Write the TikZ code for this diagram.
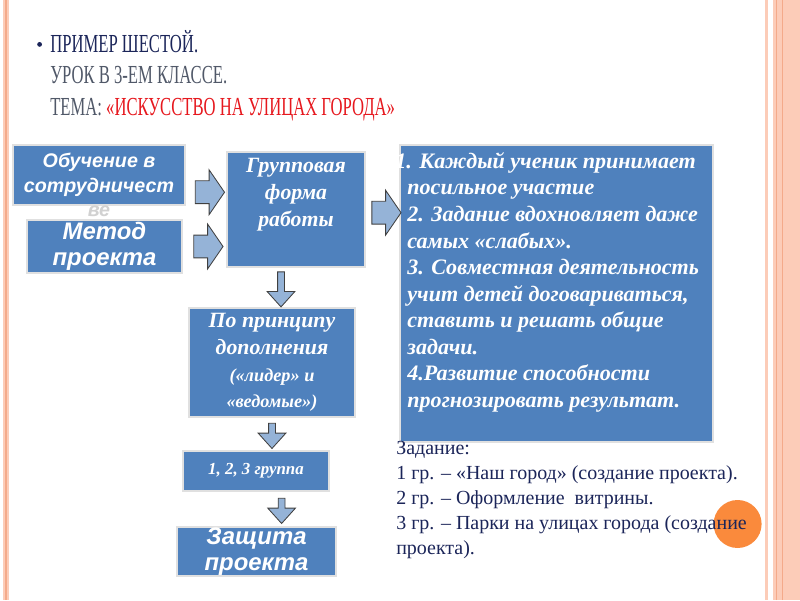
\documentclass[tikz,border=0pt]{standalone}
\usepackage{fontspec}
\setmainfont{Liberation Serif}
\newfontfamily\titlefont[FakeStretch=0.64]{Liberation Serif}
\newfontfamily\boxsans{Liberation Sans}
\usetikzlibrary{shapes.arrows,shadows,calc}

\definecolor{boxblue}{RGB}{79,129,189}
\definecolor{arrowblue}{RGB}{149,179,215}
\definecolor{arrowline}{RGB}{64,64,64}
\definecolor{peach}{RGB}{252,204,184}
\definecolor{peachdark}{RGB}{244,170,138}
\definecolor{navy}{RGB}{27,37,89}
\definecolor{titlegray}{RGB}{80,88,104}
\definecolor{titlered}{RGB}{230,24,30}
\definecolor{dotorange}{RGB}{250,138,60}

\begin{document}
\begin{tikzpicture}[
  box/.style={
    rectangle,
    fill=boxblue,
    draw=black!12,
    line width=1.2pt,
    drop shadow={shadow xshift=1pt,shadow yshift=-1pt,opacity=0.25},
    inner sep=0pt,
    text=white,
    align=center
  },
  sansbox/.style={
    box,
    font=\boxsans\bfseries\itshape\fontsize{17}{18.5}\selectfont
  },
  serifbox/.style={
    box,
    font=\bfseries\itshape\fontsize{15.5}{19}\selectfont
  },
  seriftext/.style={
    inner sep=0pt,
    text=white,
    font=\bfseries\itshape\fontsize{15.5}{19}\selectfont
  },
  rightarrow/.style={
    single arrow,
    draw=arrowline,
    fill=arrowblue,
    line width=0.6pt,
    inner xsep=0pt,
    inner ysep=0.275cm,
    minimum height=0.73cm,
    single arrow head extend=0.275cm,
    single arrow tip angle=111
  },
  downarrow/.style={
    single arrow,
    rotate=-90,
    draw=arrowline,
    fill=arrowblue,
    line width=0.6pt,
    inner xsep=0pt,
    inner ysep=0.075cm,
    minimum height=0.63cm,
    single arrow head extend=0.26cm,
    single arrow tip angle=84
  },
  stripe/.style={
    fill=peach,
    draw=none
  }
]

\path[use as bounding box] (0,0) rectangle (20,15);

% side stripes
\fill[stripe] (0.075,0) rectangle (0.225,15);
\draw[peachdark, line width=0.8pt] (0.15,0) -- (0.15,15);
\fill[stripe] (19.125,0) rectangle (19.2,15);
\fill[stripe] (19.325,0) rectangle (20,15);
\draw[peachdark, line width=1pt] (19.41,0) -- (19.41,15);
\draw[peachdark, line width=0.8pt] (19.57,0) -- (19.57,15);

% title
\fill[navy] (0.99,13.89) circle (0.06);
\node[anchor=north west, inner sep=0pt, align=left,
  font=\titlefont\fontsize{18.5}{22.3}\selectfont] (titel) at (1.25,14.25)
  {\textcolor{navy}{ПРИМЕР ШЕСТОЙ.}\\
   \textcolor{titlegray}{УРОК В 3-ЕМ КЛАССЕ.}\\
   \textcolor{titlegray}{ТЕМА: }\textcolor{titlered}{«ИСКУССТВО НА УЛИЦАХ ГОРОДА»}};

% boxes
\node[sansbox, font=\boxsans\bfseries\itshape\fontsize{14}{17.7}\selectfont,
  minimum width=4.3cm, minimum height=1.5cm] (obuch) at (2.475,10.625)
  {Обучение в\\сотрудничест};
\node[inner sep=0pt, text=black!18,
  font=\boxsans\bfseries\itshape\fontsize{14}{17.7}\selectfont] (obuchve)
  at ([yshift=-0.13cm]obuch.south) {ве};
\node[sansbox, minimum width=3.875cm, minimum height=1.325cm] (metod)
  at (2.6125,8.8375) {Метод\\проекта};
\node[box, minimum width=3.45cm, minimum height=2.875cm] (grupp) at (7.4,9.7625) {};
\node[seriftext, align=center, anchor=north] (grupptext)
  at ([yshift=-0.18cm]grupp.north) {Групповая\\форма\\работы};
\node[box, minimum width=7.825cm, minimum height=7.425cm] (spisok) at (13.9125,7.6625) {};
\node[seriftext, align=left, anchor=north west,
  font=\bfseries\itshape\fontsize{15.7}{18.9}\selectfont] (spisoktext)
  at ($(spisok.north west)+(0.2,-0.2)$)
  {\hspace*{-0.3cm}1. Каждый ученик принимает\\
   посильное участие\\
   2. Задание вдохновляет даже\\
   самых «слабых».\\
   3. Совместная деятельность\\
   учит детей договариваться,\\
   ставить и решать общие\\
   задачи.\\
   4.Развитие способности\\
   прогнозировать результат.};
\node[serifbox, minimum width=4.15cm, minimum height=2.725cm] (princip) at (6.8,5.9375)
  {По принципу\\дополнения\\
   {\fontsize{13}{18}\selectfont («лидер» и}\\
   {\fontsize{13}{17}\selectfont «ведомые»)}};
\node[serifbox, font=\bfseries\itshape\fontsize{12}{14}\selectfont,
  minimum width=3.65cm, minimum height=1.0cm] (gruppy) at (6.4,3.225)
  {1, 2, 3 группа};
\node[sansbox, minimum width=3.975cm, minimum height=1.225cm] (zashita)
  at (6.4125,1.2125) {Защита\\проекта};

% block arrows
\path (obuch.east) -- node[rightarrow] (ar1) {} (grupp.west);
\path (metod.east) -- node[rightarrow] (ar2) {} (metod.east -| grupp.west);
\path (grupp.east) -- node[yshift=-0.08cm, rightarrow] (ar3) {}
  (grupp.east -| spisok.west);
\path (grupp.south) -- node[xshift=-0.375cm, downarrow, minimum height=0.875cm] (ar4) {}
  (grupp.south |- princip.north);
\path (princip.south) -- node[downarrow] (ar5) {} (princip.south |- gruppy.north);
\path (gruppy.south) -- node[xshift=0.64cm, downarrow] (ar6) {}
  (gruppy.south |- zashita.north);

% task text
\fill[dotorange] (18.44,1.9) circle (0.6);
\node[anchor=north west, inner sep=0pt, align=left, text=navy,
  font=\fontsize{14.2}{17.7}\selectfont] (zadanie) at (9.9,3.97)
  {Задание:\\
   1 гр. – «Наш город» (создание проекта).\\
   2 гр. – Оформление\ \ витрины.\\
   3 гр. – Парки на улицах города (создание\\
   проекта).};

\end{tikzpicture}
\end{document}
